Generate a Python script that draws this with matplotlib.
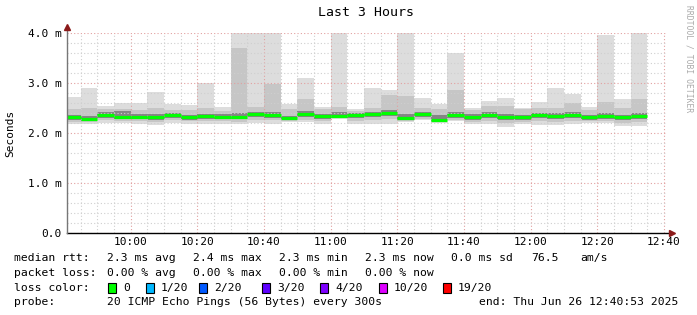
import matplotlib
matplotlib.use("Agg")
import matplotlib.pyplot as plt
import numpy as np

# 5-minute rounds, starting 09:40 (x is minutes since 09:40)
bar_start = np.arange(0, 175, 5)
tick_pos = [20, 40, 60, 80, 100, 120, 140, 160, 180]
tick_labels = ['10:00', '10:20', '10:40', '11:00', '11:20', '11:40', '12:00', '12:20', '12:40']
ytick_pos = [0, 1, 2, 3, 4]
ytick_labels = ['0.0', '1.0 m', '2.0 m', '3.0 m', '4.0 m']

# rtt per round in ms (smoke percentiles)
rtt_lo = [2.19, 2.18, 2.21, 2.20, 2.19, 2.17, 2.20, 2.19, 2.19, 2.19, 2.18, 2.20, 2.19, 2.23, 2.22, 2.19, 2.28, 2.19,
          2.19, 2.18, 2.22, 2.26, 2.21, 2.24, 2.18, 2.18, 2.13, 2.18, 2.17, 2.17, 2.19, 2.20, 2.20, 2.14, 2.14]
rtt_p10 = [2.23, 2.22, 2.26, 2.25, 2.24, 2.22, 2.26, 2.24, 2.25, 2.24, 2.23, 2.27, 2.26, 2.25, 2.27, 2.25, 2.30, 2.25,
           2.26, 2.28, 2.25, 2.29, 2.23, 2.27, 2.23, 2.24, 2.20, 2.23, 2.24, 2.23, 2.25, 2.24, 2.25, 2.21, 2.22]
rtt_p25 = [2.27, 2.25, 2.31, 2.29, 2.28, 2.26, 2.31, 2.27, 2.29, 2.28, 2.28, 2.33, 2.31, 2.27, 2.32, 2.29, 2.31, 2.30,
           2.33, 2.35, 2.27, 2.33, 2.24, 2.30, 2.27, 2.30, 2.27, 2.27, 2.31, 2.29, 2.31, 2.27, 2.29, 2.27, 2.29]
rtt_med = [2.32, 2.29, 2.37, 2.33, 2.33, 2.32, 2.37, 2.32, 2.34, 2.33, 2.33, 2.38, 2.37, 2.31, 2.38, 2.34, 2.34, 2.36,
           2.38, 2.41, 2.30, 2.39, 2.27, 2.36, 2.33, 2.37, 2.33, 2.32, 2.37, 2.35, 2.37, 2.32, 2.34, 2.32, 2.35]
rtt_p75 = [2.37, 2.35, 2.42, 2.44, 2.38, 2.38, 2.41, 2.37, 2.39, 2.38, 2.39, 2.42, 2.43, 2.35, 2.44, 2.39, 2.42, 2.40,
           2.43, 2.46, 2.39, 2.43, 2.36, 2.42, 2.38, 2.42, 2.38, 2.37, 2.41, 2.40, 2.42, 2.37, 2.40, 2.37, 2.40]
rtt_p90 = [2.48, 2.50, 2.47, 2.48, 2.46, 2.50, 2.45, 2.47, 2.50, 2.45, 3.70, 2.52, 2.97, 2.47, 2.68, 2.47, 2.52, 2.44,
           2.50, 2.76, 2.74, 2.50, 2.48, 2.87, 2.45, 2.55, 2.55, 2.47, 2.50, 2.50, 2.60, 2.46, 2.62, 2.50, 2.68]
rtt_hi = [2.73, 2.90, 2.55, 2.60, 2.60, 2.82, 2.58, 2.57, 3.00, 2.53, 4.60, 4.40, 4.50, 2.58, 3.10, 2.53, 4.30, 2.47,
          2.90, 2.86, 4.20, 2.70, 2.58, 3.60, 2.50, 2.65, 2.70, 2.51, 2.62, 2.90, 2.79, 2.52, 3.97, 2.68, 4.50]

loss_labels = ['0', '1/20', '2/20', '3/20', '4/20', '10/20', '19/20']
loss_colors = ['#00ff00', '#00b8ff', '#0059ff', '#5e00ff', '#7e00ff', '#dd00ff', '#ff0000']

W, H = 697, 315
fig = plt.figure(figsize=(W / 100, H / 100), dpi=100)
ax = fig.add_axes([67 / W, 82 / H, 600 / W, 200 / H])
mono = 'DejaVu Sans Mono'

x0 = 53 / 60
ax.set_xlim(x0, 180 + x0)
ax.set_ylim(0, 4)

lo = np.array(rtt_lo)
hi = np.array(rtt_hi)
ax.bar(bar_start, hi - lo, bottom=lo, width=5, align='edge', color='#dddddd', lw=0, zorder=1)
ax.bar(bar_start, np.array(rtt_p90) - np.array(rtt_p10), bottom=rtt_p10, width=5, align='edge',
       color='#c6c6c6', lw=0, zorder=1)
ax.bar(bar_start, np.array(rtt_p75) - np.array(rtt_p25), bottom=rtt_p25, width=5, align='edge',
       color='#858585', lw=0, zorder=1)
ax.hlines(rtt_med, bar_start, bar_start + 5, color='#00ff00', lw=2.3, zorder=3)

# grid on top of the smoke, like rrdtool
ax.set_xticks(np.arange(5, 181, 5), minor=True)
ax.set_yticks(np.arange(0, 4.01, 0.2), minor=True)
ax.set_xticks(tick_pos)
ax.set_xticklabels(tick_labels, fontfamily=mono, fontsize=8)
ax.set_yticks(ytick_pos)
ax.set_yticklabels(ytick_labels, fontfamily=mono, fontsize=8)
ax.grid(which='minor', color='#cfcfcf', linestyle=(0, (1, 2)), lw=0.8, zorder=4)
ax.grid(which='major', color='#e2a0a0', linestyle=(0, (1, 2)), lw=0.8, zorder=4)
ax.set_axisbelow(False)
ax.tick_params(which='both', length=0, pad=4)
ax.tick_params(axis='x', pad=3)
for s in ax.spines.values():
    s.set_visible(False)

# axes with arrows
ax.plot([x0, 182.0], [0, 0], color='black', lw=1, clip_on=False, zorder=5)
ax.plot([x0, x0], [0, 4.1], color='#777777', lw=1, clip_on=False, zorder=5)
ax.plot([182.3], [0], marker='>', color='#8b1a1a', ms=4, clip_on=False, zorder=6)
ax.plot([x0], [4.12], marker='^', color='#8b1a1a', ms=4, clip_on=False, zorder=6)

fig.text(366 / W, 1 - 13 / H, 'Last 3 Hours', fontfamily=mono, fontsize=9.5, ha='center', va='center')
fig.text(10 / W, 1 - 133 / H, 'Seconds', fontfamily=mono, fontsize=8, rotation=90, ha='center', va='center')
fig.text(689 / W, 1 - 5 / H, 'RRDTOOL / TOBI OETIKER', fontfamily=mono, fontsize=5.8, rotation=270,
         ha='center', va='top', color='#aaaaaa')

def row(y, items):
    for x, s in items:
        fig.text(x / W, 1 - y / H, s, fontfamily=mono, fontsize=8.2, ha='left', va='center')

row(258, [(14, 'median rtt:'), (107, '2.3 ms avg'), (193, '2.4 ms max'), (279, '2.3 ms min'),
          (365, '2.3 ms now'), (451, '0.0 ms sd'), (531, '76.5'), (580, 'am/s')])
row(273, [(14, 'packet loss:'), (107, '0.00 % avg'), (193, '0.00 % max'), (279, '0.00 % min'),
          (365, '0.00 % now')])
row(302, [(14, 'probe:'), (107, '20 ICMP Echo Pings (56 Bytes) every 300s'),
          (479, 'end: Thu Jun 26 12:40:53 2025')])

row(288, [(14, 'loss color:')])
box_x = [108, 146, 199, 262, 320, 379, 443]
for bx, lab, col in zip(box_x, loss_labels, loss_colors):
    fig.patches.append(plt.Rectangle((bx / W, 1 - 293 / H), 8 / W, 10 / H, transform=fig.transFigure,
                                     facecolor=col, edgecolor='black', lw=0.8))
    fig.text((bx + 15) / W, 1 - 288 / H, lab, fontfamily=mono, fontsize=8.2, ha='left', va='center')

fig.savefig('out.png', dpi=100, facecolor='white')
